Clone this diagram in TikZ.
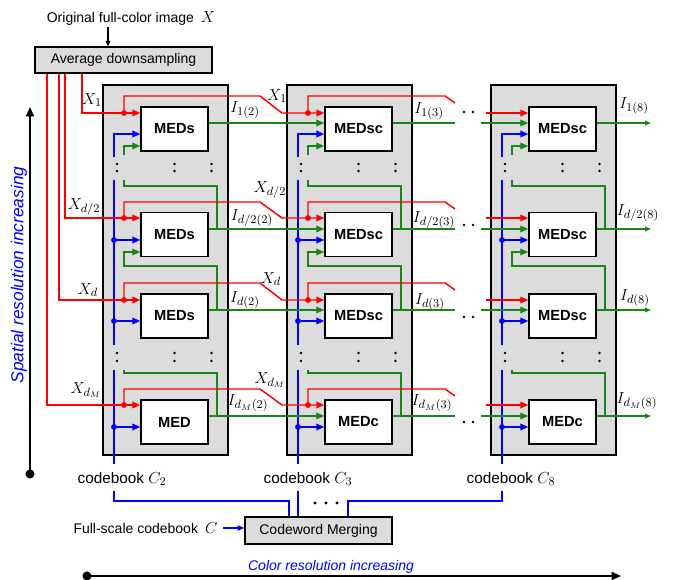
\documentclass[tikz,border=0pt]{standalone}
\usepackage{fontspec}
\setmainfont{Liberation Sans}
\usetikzlibrary{arrows.meta,calc}
\definecolor{cred}{RGB}{255,0,0}
\definecolor{cgreen}{RGB}{24,135,24}
\definecolor{cblue}{RGB}{0,0,255}
\definecolor{panelgray}{RGB}{220,220,220}
\tikzset{
 rl/.style={draw=cred,line width=1.1pt},
 gl/.style={draw=cgreen,line width=0.9pt},
 bl/.style={draw=cblue,line width=1.1pt},
 tipr/.style={-{Triangle[length=6pt,width=5pt]}},
 tips/.style={-{Triangle[length=4.5pt,width=3.5pt]}},
 panelbox/.style={draw=black,line width=1.1pt,fill=panelgray,minimum width=93.75pt,minimum height=277.5pt,inner sep=0pt},
 medbox/.style={draw=black,line width=1.1pt,fill=white,minimum width=50.25pt,minimum height=33pt,inner sep=0pt,font=\fontsize{11}{13}\selectfont\bfseries},
 graybox/.style={draw=black,line width=1pt,fill=panelgray,inner sep=0pt,font=\fontsize{10.5}{12}\selectfont},
 lab/.style={font=\fontsize{13}{15}\selectfont,inner sep=0pt},
 txt/.style={font=\fontsize{10.5}{12}\selectfont,inner sep=1pt},
 cbtxt/.style={font=\fontsize{11.5}{13}\selectfont,inner sep=1pt},
 axisline/.style={draw=black,line width=1.4pt},
}
\begin{document}
\begin{tikzpicture}[x=0.75pt,y=-0.75pt]
\useasboundingbox (0,0) rectangle (676,580);
% y levels
\coordinate (yr1) at (0,113); \coordinate (yr2) at (0,218); \coordinate (yr3) at (0,300); \coordinate (yr4) at (0,405);
\coordinate (yg1) at (0,123); \coordinate (yg2) at (0,229); \coordinate (yg3) at (0,310); \coordinate (yg4) at (0,416);
\coordinate (yb1) at (0,134); \coordinate (yb2) at (0,240); \coordinate (yb3) at (0,321); \coordinate (yb4) at (0,427);
\coordinate (yu1) at (0,96); \coordinate (yu2) at (0,202); \coordinate (yu3) at (0,283); \coordinate (yu4) at (0,389);
\coordinate (yf1) at (0,146); \coordinate (yf2) at (0,252);
\coordinate (yh1) at (0,186); \coordinate (yh2) at (0,266); \coordinate (yh3) at (0,373);
\coordinate (yk1) at (0,180); \coordinate (yk2) at (0,370);
\coordinate (ys1) at (0,157); \coordinate (ys2) at (0,345); \coordinate (ys3) at (0,464); \coordinate (yst) at (0,155);
\coordinate (cA) at (260,0); \coordinate (cB) at (282,0);
\coordinate (cC) at (445,0); \coordinate (cD) at (455,0);
\coordinate (rS) at (486,0); \coordinate (gS) at (481,0); \coordinate (gE) at (455,0); \coordinate (gO) at (651,0);

% top
\node[txt] (orig) at (131,18) {Original full-color image\enspace{\fontsize{13}{15}\selectfont$X$}};
\node[graybox,minimum width=132.75pt,minimum height=19.5pt] (ds) at (123.5,60) {Average downsampling};
\coordinate (ax) at (108,0);
\draw[line width=0.8pt,-{Triangle[length=4pt,width=3.5pt]}] (orig.south -| ax) -- (ds.north -| ax);

% panels and boxes
\foreach \c/\L/\na/\nb in {1/103/MEDs/MED, 2/287/MEDsc/MEDc, 3/491/MEDsc/MEDc}{
  \node[panelbox] (p\c) at (\L+62.5,270) {};
  \node[medbox] (b\c1) at (\L+71.5,129) {\na};
  \node[medbox] (b\c2) at (\L+71.5,234.5) {\na};
  \node[medbox] (b\c3) at (\L+71.5,316) {\na};
  \node[medbox] (b\c4) at (\L+71.5,422) {\nb};
}

% internal blue and green per column
\foreach \c/\L in {1/103,2/287,3/491}{
  \coordinate (bx\c) at (\L+11,0);
  \coordinate (gx\c) at (\L+21,0);
  \coordinate (gR\c) at (\L+114,0);
  % blue
  \draw[bl,tipr] (bx\c |- ys1) |- (b\c1.west |- yb1);
  \draw[bl] (bx\c |- yk1) -- (bx\c |- ys2);
  \draw[bl,tipr] (bx\c |- yb2) -- (b\c2.west |- yb2);
  \draw[bl,tipr] (bx\c |- yb3) -- (b\c3.west |- yb3);
  \draw[bl] (bx\c |- yk2) -- (bx\c |- ys3);
  \draw[bl,tipr] (bx\c |- yb4) -- (b\c4.west |- yb4);
  \fill[cblue] (bx\c |- yb2) circle (2.2pt);
  \fill[cblue] (bx\c |- yb3) circle (2.2pt);
  \fill[cblue] (bx\c |- yb4) circle (2.2pt);
  % green feedback
  \draw[gl,tipr] (gx\c |- yst) |- (b\c1.west |- yf1);
  \draw[gl] (gR\c |- yg2) |- (gx\c |- yh1) -- (gx\c |- yk1);
  \draw[gl,tipr] (gR\c |- yg3) |- (gx\c |- yh2) |- (b\c2.west |- yf2);
  \draw[gl] (gR\c |- yg4) |- (gx\c |- yh3) -- (gx\c |- yk2);
  % vertical ellipses
  \foreach \yy in {164,171,353,361}{
    \foreach \dx in {14,71.5,108.5}{
      \fill (\L+\dx,\yy) circle (1pt);
    }
  }
}

% rows: green and red connections
\foreach \r/\xx in {1/82,2/65,3/59,4/47}{
  \coordinate (xs\r) at (\xx,0);
  \draw[gl,tipr] (b1\r.east |- yg\r) -- (b2\r.west |- yg\r);
  \draw[gl] (b2\r.east |- yg\r) -- (gE |- yg\r);
  \draw[gl,tipr] (gS |- yg\r) -- (b3\r.west |- yg\r);
  \draw[gl,tips] (b3\r.east |- yg\r) -- (gO |- yg\r);
  \draw[rl,tipr] (ds.south -| xs\r) |- (b1\r.west |- yr\r);
  \draw[rl,tipr] (gx1 |- yr\r) |- (cA |- yu\r) -- (cB |- yr\r) -- (b2\r.west |- yr\r);
  \draw[rl] (gx2 |- yr\r) |- (cC |- yu\r) -- ($(cD |- yu\r)+(0,7)$);
  \draw[rl,tipr] (rS |- yr\r) -- (b3\r.west |- yr\r);
  \fill[cred] (gx1 |- yr\r) circle (2.2pt);
  \fill[cred] (gx2 |- yr\r) circle (2.2pt);
}

% horizontal ellipses between column 2 and 3
\foreach \yy in {112,225,317,422}{
  \fill (464,\yy) circle (1pt);
  \fill (473,\yy) circle (1pt);
}

% labels X
\node[lab] (lx1a) at (92,100) {$X_1$};
\node[lab] (lx2a) at (84,207) {$X_{d/2}$};
\node[lab] (lx3a) at (88,290) {$X_d$};
\node[lab] (lx4a) at (86,390) {$X_{d_M}$};
\node[lab] (lx1b) at (277,96) {$X_1$};
\node[lab] (lx2b) at (270,190) {$X_{d/2}$};
\node[lab] (lx3b) at (271,279) {$X_d$};
\node[lab] (lx4b) at (270,380) {$X_{d_M}$};
% labels I
\node[lab] (li12) at (245,110) {$I_{1(2)}$};
\node[lab] (li22) at (252,218) {$I_{d/2(2)}$};
\node[lab] (li32) at (245,300) {$I_{d(2)}$};
\node[lab] (li42) at (248,403) {$I_{d_M(2)}$};
\node[lab] (li13) at (429,111) {$I_{1(3)}$};
\node[lab] (li23) at (434,220) {$I_{d/2(3)}$};
\node[lab] (li33) at (430,302) {$I_{d(3)}$};
\node[lab] (li43) at (432,403) {$I_{d_M(3)}$};
\node[lab] (li18) at (634,106) {$I_{1(8)}$};
\node[lab] (li28) at (638,213) {$I_{d/2(8)}$};
\node[lab] (li38) at (635,298) {$I_{d(8)}$};
\node[lab] (li48) at (637,401) {$I_{d_M(8)}$};

% codebooks
\node[cbtxt] (cb1) at (122,479) {codebook {\fontsize{13}{15}\selectfont$C_2$}};
\node[cbtxt] (cb2) at (308,479) {codebook {\fontsize{13}{15}\selectfont$C_3$}};
\node[cbtxt] (cb3) at (511,479) {codebook {\fontsize{13}{15}\selectfont$C_8$}};

\node[graybox,minimum width=110.25pt,minimum height=20.25pt] (cm) at (318.5,530.5) {Codeword Merging};
\coordinate (yq) at (0,491); \coordinate (yw) at (0,501);
\coordinate (m1) at (289,0); \coordinate (m3) at (348,0);
\draw[bl] (bx1 |- yq) |- (m1 |- yw) -- (m1 |- cm.north);
\draw[bl] (bx2 |- yq) -- (bx2 |- cm.north);
\draw[bl] (bx3 |- yq) |- (m3 |- yw) -- (m3 |- cm.north);
\foreach \xx in {315,326,337}{ \fill (\xx,503) circle (1.2pt); }

\node[txt,anchor=east] (fsc) at (219,528) {Full-scale codebook\enspace{\fontsize{13}{15}\selectfont$C$}};
\draw[bl,line width=0.8pt,-{Triangle[length=5pt,width=4pt]},shorten <=3pt] (fsc.east) -- (cm.west |- fsc.east);

% axes
\coordinate (ca) at (87,576); \coordinate (cbb) at (621,576);
\draw[axisline,-{Triangle[length=7pt,width=6pt]}] (ca) -- (cbb);
\fill (ca) circle (3.4pt);
\node[txt,text=cblue,font=\fontsize{10.5}{12}\selectfont\itshape] (colres) at (331,567) {Color resolution increasing};
\coordinate (sa) at (30,474); \coordinate (sb) at (30,107);
\draw[axisline,-{Triangle[length=7pt,width=6pt]}] (sa) -- (sb);
\fill (sa) circle (3.4pt);
\node[txt,text=cblue,font=\fontsize{13}{15}\selectfont\itshape,rotate=90] (spres) at (19,275) {Spatial resolution increasing};
\end{tikzpicture}
\end{document}
